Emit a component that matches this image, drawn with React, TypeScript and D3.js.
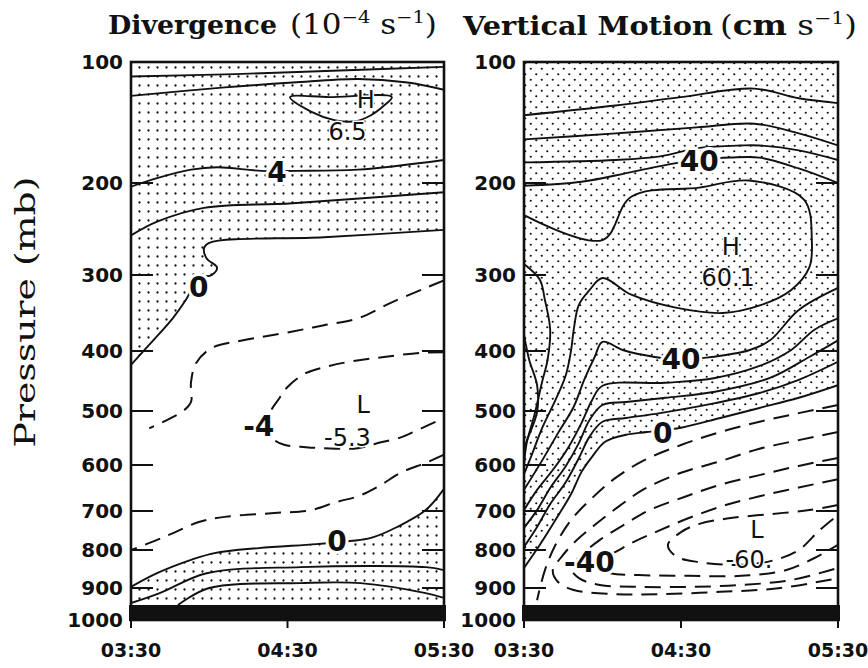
import * as d3 from "d3";

type Pt = [number, number]; // [minutes after 03:30, pressure mb]
type Label = { text: string; t: number; p: number };

const pressureTicks = [100, 200, 300, 400, 500, 600, 700, 800, 900, 1000];
const timeTicks = [0, 60, 120];
const timeLabels = ["03:30", "04:30", "05:30"];
const surfaceBandTop = 953; // mb, top of the black base strip

// ---- Divergence (10^-4 s^-1) ----
const divTop: Pt[] = [[0, 112], [40, 110], [80, 107], [120, 104]];
const div2: Pt[] = [[0, 128], [36, 121], [62, 117], [87, 114], [106, 117], [120, 123]];
const divHigh: Pt[] = [[61, 129], [76, 129], [100, 129], [97, 136], [92, 144], [86, 149], [78, 148], [69, 141]];
const div4: Pt[] = [[0, 204], [10, 196], [23, 189], [33, 187], [50, 190], [63, 190], [87, 189], [120, 181]];
const div4b: Pt[] = [[0, 257], [10, 242], [28, 227], [62, 222], [120, 210]];
const divZeroUpper: Pt[] = [[120, 251], [74, 259], [30, 265], [28, 271], [29, 282], [33, 292], [31, 300], [26, 304], [21, 333], [16, 357], [8, 388], [0, 423]];
const divZeroLower: Pt[] = [[120, 652], [113, 698], [102, 741], [92, 769], [84, 777], [71, 785], [49, 795], [32, 808], [23, 826], [10, 861], [0, 897]];
const div2c: Pt[] = [[0, 947], [11, 916], [29, 861], [65, 845], [113, 845], [120, 853]];
const div4c: Pt[] = [[18, 953], [30, 900], [65, 887], [88, 887], [113, 916], [120, 931]];
const divNeg2: Pt[] = [[120, 307], [113, 317], [100, 336], [87, 357], [74, 366], [61, 375], [43, 386], [31, 396], [25, 420], [23, 452], [23, 485], [20, 500], [7, 532]];
const divNeg4: Pt[] = [[120, 402], [111, 403], [97, 410], [85, 417], [76, 425], [67, 437], [60, 460], [57, 478], [53, 507], [53, 540], [55, 554], [59, 563], [67, 567], [74, 569], [87, 569], [95, 559], [104, 548], [110, 535], [120, 513]];
const divNeg2b: Pt[] = [[120, 581], [113, 596], [104, 615], [95, 646], [87, 668], [79, 680], [69, 698], [55, 705], [36, 715], [26, 728], [17, 754], [10, 774], [0, 800]];

const divValueLabels: Label[] = [
  { text: "4", t: 56, p: 191 },
  { text: "0", t: 26, p: 316 },
  { text: "-4", t: 49, p: 528 },
  { text: "0", t: 79, p: 779 },
];
const divExtremaLabels: Label[] = [
  { text: "H", t: 90, p: 131 },
  { text: "6.5", t: 83, p: 158 },
  { text: "L", t: 89, p: 490 },
  { text: "-5.3", t: 83, p: 550 },
];

// ---- Vertical motion (cm s^-1) ----
const w10: Pt[] = [[0, 144], [35, 136], [60, 129], [88, 122], [105, 130], [120, 134]];
const w20: Pt[] = [[0, 164], [35, 159], [66, 154], [88, 151], [105, 159], [120, 169]];
const w30: Pt[] = [[0, 183], [35, 181], [52, 178], [67, 171], [83, 169], [90, 169], [105, 173], [120, 181]];
const w40: Pt[] = [[0, 203], [22, 199], [41, 191], [57, 184], [67, 181], [79, 179], [90, 179], [105, 188], [120, 200]];
const w50: Pt[] = [[0, 235], [30, 262], [41, 215], [67, 205], [86, 198], [107, 218], [110, 263], [109, 292], [102, 320], [91, 339], [76, 350], [58, 343], [41, 326], [30, 304], [25, 320], [21, 339], [19, 372], [18, 399], [16, 440], [12, 482], [7, 531], [3, 581], [0, 620]];
const wEdgeOuter: Pt[] = [[0, 288], [6, 306], [8, 333], [10, 372], [9, 415], [7, 450], [4, 507], [1, 560], [0, 600]];
const wEdgeInner: Pt[] = [[0, 379], [2, 415], [5, 457], [5, 502], [1, 556], [0, 571]];
const w40low: Pt[] = [[120, 317], [105, 346], [94, 386], [86, 399], [68, 412], [60, 415], [50, 410], [38, 399], [30, 388], [27, 410], [23, 448], [19, 493], [13, 541], [7, 591], [0, 654]];
const w30low: Pt[] = [[120, 357], [111, 372], [102, 399], [90, 425], [73, 445], [54, 453], [30, 458], [26, 482], [22, 522], [17, 567], [11, 611], [5, 654], [0, 698]];
const w20low: Pt[] = [[120, 386], [109, 410], [94, 445], [73, 468], [54, 478], [39, 485], [30, 490], [25, 517], [21, 559], [16, 602], [10, 650], [5, 698], [0, 743]];
const w10low: Pt[] = [[120, 418], [105, 448], [90, 470], [73, 487], [52, 504], [39, 513], [30, 520], [25, 548], [21, 587], [16, 637], [10, 685], [5, 741], [0, 792]];
const wZero: Pt[] = [[120, 457], [105, 478], [90, 495], [75, 513], [60, 531], [47, 539], [39, 544], [31, 557], [26, 585], [22, 615], [18, 663], [12, 723], [6, 787], [0, 847]];
const wNeg10: Pt[] = [[120, 490], [105, 504], [90, 520], [75, 539], [60, 563], [46, 591], [35, 628], [26, 672], [18, 723], [12, 787], [8, 853], [5, 938]];
const wNeg20: Pt[] = [[120, 539], [105, 554], [90, 570], [75, 593], [60, 617], [46, 652], [36, 691], [27, 736], [19, 782], [14, 821], [11, 853], [13, 884], [19, 906], [35, 919], [52, 919], [75, 912], [98, 900], [120, 874]];
const wNeg30: Pt[] = [[120, 587], [105, 602], [90, 622], [75, 643], [61, 670], [48, 698], [38, 736], [29, 774], [22, 813], [18, 847], [21, 874], [29, 892], [44, 897], [63, 897], [83, 892], [102, 879], [120, 847]];
const wNeg40: Pt[] = [[120, 631], [105, 649], [90, 668], [76, 689], [63, 718], [52, 749], [42, 779], [35, 805], [29, 826], [28, 847], [33, 861], [44, 866], [63, 868], [83, 868], [100, 853], [111, 821], [120, 787]];
const wNeg50: Pt[] = [[120, 687], [109, 698], [94, 708], [79, 718], [67, 733], [60, 754], [55, 787], [58, 816], [67, 832], [83, 839], [96, 826], [105, 800], [113, 749], [120, 710]];

const wValueLabels: Label[] = [
  { text: "40", t: 67, p: 182 },
  { text: "40", t: 60, p: 415 },
  { text: "0", t: 53, p: 541 },
  { text: "-40", t: 25, p: 834 },
];
const wExtremaLabels: Label[] = [
  { text: "H", t: 79, p: 270 },
  { text: "60.1", t: 78, p: 304 },
  { text: "L", t: 89, p: 749 },
  { text: "-60.", t: 86, p: 826 },
];

// layout
const plotTop = 62;
const plotBottom = 620;
// relative spacing of the pressure levels along the original axis
const levelFrac = [0, 0.2168, 0.3817, 0.5179, 0.6254, 0.7222, 0.8047, 0.8746, 0.9427, 1];
const y = d3
  .scaleLinear()
  .domain(pressureTicks)
  .range(levelFrac.map((f) => plotTop + f * (plotBottom - plotTop)));

const ink = "#111";

type Shade = { edge: Pt[]; close: Pt[] };
type PanelProps = {
  id: string;
  x0: number;
  x1: number;
  solid: Pt[][];
  dashed: Pt[][];
  closed?: Pt[][];
  shades: Shade[];
  valueLabels: Label[];
  extremaLabels: Label[];
};

const Panel = ({ id, x0, x1, solid, dashed, closed = [], shades, valueLabels, extremaLabels }: PanelProps) => {
  const x = d3.scaleLinear().domain([0, 120]).range([x0, x1]);
  const line = d3
    .line<Pt>()
    .x((d) => x(d[0]))
    .y((d) => y(d[1]))
    .curve(d3.curveCatmullRom.alpha(0.5));
  const loop = d3
    .line<Pt>()
    .x((d) => x(d[0]))
    .y((d) => y(d[1]))
    .curve(d3.curveCatmullRomClosed.alpha(0.5));
  const yTop = y(100);
  const yBot = y(1000);

  return (
    <g>
      <clipPath id={`clip-${id}`}>
        <rect x={x0} y={yTop} width={x1 - x0} height={yBot - yTop} />
      </clipPath>
      <g clipPath={`url(#clip-${id})`}>
        {shades.map((s, i) => (
          <path
            key={i}
            d={line(s.edge) + s.close.map((p) => `L${x(p[0])},${y(p[1])}`).join("") + "Z"}
            fill={`url(#dots-${id})`}
          />
        ))}
        {solid.map((c, i) => (
          <path key={i} d={line(c) ?? ""} fill="none" stroke={ink} strokeWidth={1.9} />
        ))}
        {closed.map((c, i) => (
          <path key={i} d={loop(c) ?? ""} fill="none" stroke={ink} strokeWidth={1.9} />
        ))}
        {dashed.map((c, i) => (
          <path key={i} d={line(c) ?? ""} fill="none" stroke={ink} strokeWidth={2} strokeDasharray="16 9" />
        ))}
      </g>

      {/* inner ticks on both sides */}
      {pressureTicks.slice(1, -1).map((p) => (
        <g key={p} stroke={ink} strokeWidth={2}>
          <line x1={x0} x2={x0 + 22} y1={y(p)} y2={y(p)} />
          <line x1={x1 - 22} x2={x1} y1={y(p)} y2={y(p)} />
        </g>
      ))}

      {/* surface strip */}
      <rect x={x0 - 2} y={y(surfaceBandTop)} width={x1 - x0 + 4} height={yBot - y(surfaceBandTop) + 1} fill={ink} />
      <rect x={x0} y={yTop} width={x1 - x0} height={yBot - yTop} fill="none" stroke={ink} strokeWidth={2.6} />

      {timeTicks.map((t) => (
        <line key={t} x1={x(t)} x2={x(t)} y1={yBot} y2={yBot + 8} stroke={ink} strokeWidth={2} />
      ))}

      {pressureTicks.map((p) => (
        <text
          key={p}
          x={x0 - 8}
          y={y(p)}
          textAnchor="end"
          dominantBaseline="central"
          fontFamily="DejaVu Sans"
          fontWeight="bold"
          fontSize={20}
          fill={ink}
        >
          {p}
        </text>
      ))}
      {timeTicks.map((t, i) => (
        <text
          key={t}
          x={x(t)}
          y={yBot + 37}
          textAnchor="middle"
          fontFamily="DejaVu Sans"
          fontWeight="bold"
          fontSize={19}
          fill={ink}
        >
          {timeLabels[i]}
        </text>
      ))}

      {valueLabels.map((l, i) => (
        <text
          key={i}
          x={x(l.t)}
          y={y(l.p)}
          textAnchor="middle"
          dominantBaseline="central"
          fontFamily="DejaVu Sans"
          fontWeight="bold"
          fontSize={28}
          fill={ink}
          stroke="#fff"
          strokeWidth={6}
          paintOrder="stroke"
        >
          {l.text}
        </text>
      ))}
      {extremaLabels.map((l, i) => (
        <text
          key={i}
          x={x(l.t)}
          y={y(l.p)}
          textAnchor="middle"
          dominantBaseline="central"
          fontFamily="DejaVu Sans"
          fontSize={24}
          fill={ink}
          stroke="#fff"
          strokeWidth={3}
          paintOrder="stroke"
        >
          {l.text}
        </text>
      ))}
    </g>
  );
};

export default function App() {
  return (
    <svg width={868} height={668} style={{ position: "absolute", left: 0, top: 0, background: "#fff" }}>
      <defs>
        <pattern id="dots-div" width={9} height={9} patternUnits="userSpaceOnUse">
          <circle cx={4.5} cy={4.5} r={1.15} fill={ink} />
        </pattern>
        <pattern id="dots-w" width={11} height={11} patternUnits="userSpaceOnUse">
          <circle cx={2.75} cy={2.75} r={1.1} fill={ink} />
          <circle cx={8.25} cy={8.25} r={1.1} fill={ink} />
        </pattern>
      </defs>

      {/* titles */}
      <text x={108} y={34} fontFamily="DejaVu Serif" fontWeight="bold" fontSize={26} textLength={169} lengthAdjust="spacingAndGlyphs" fill={ink}>
        Divergence
      </text>
      <text x={290} y={34} fontFamily="DejaVu Serif" fontSize={27} textLength={147} lengthAdjust="spacingAndGlyphs" fill={ink}>
        <tspan>(10</tspan>
        <tspan dy={-11} fontSize={17}>−4</tspan>
        <tspan dy={11}> s</tspan>
        <tspan dy={-11} fontSize={17}>−1</tspan>
        <tspan dy={11}>)</tspan>
      </text>
      <text x={463} y={35} fontFamily="DejaVu Serif" fontWeight="bold" fontSize={26} textLength={250} lengthAdjust="spacingAndGlyphs" fill={ink}>
        Vertical Motion
      </text>
      <text x={720} y={35} fontFamily="DejaVu Serif" fontSize={27} textLength={137} lengthAdjust="spacingAndGlyphs" fill={ink}>
        <tspan>(</tspan>
        <tspan fontWeight="bold">cm</tspan>
        <tspan> s</tspan>
        <tspan dy={-11} fontSize={17}>−1</tspan>
        <tspan dy={11}>)</tspan>
      </text>
      <text
        transform="translate(35,312) rotate(-90)"
        textAnchor="middle"
        fontFamily="DejaVu Serif"
        fontSize={28}
        textLength={271}
        lengthAdjust="spacingAndGlyphs"
        fill={ink}
      >
        Pressure (mb)
      </text>

      <Panel
        id="div"
        x0={131}
        x1={444}
        solid={[divTop, div2, div4, div4b, divZeroUpper, divZeroLower, div2c, div4c]}
        closed={[divHigh]}
        dashed={[divNeg2, divNeg4, divNeg2b]}
        shades={[
          { edge: divZeroUpper, close: [[0, 100], [120, 100]] },
          { edge: divZeroLower, close: [[0, 1000], [120, 1000]] },
        ]}
        valueLabels={divValueLabels}
        extremaLabels={divExtremaLabels}
      />
      <Panel
        id="w"
        x0={524}
        x1={838}
        solid={[w10, w20, w30, w40, w50, wEdgeOuter, wEdgeInner, w40low, w30low, w20low, w10low, wZero]}
        dashed={[wNeg10, wNeg20, wNeg30, wNeg40, wNeg50]}
        shades={[{ edge: wZero, close: [[0, 100], [120, 100]] }]}
        valueLabels={wValueLabels}
        extremaLabels={wExtremaLabels}
      />
    </svg>
  );
}
